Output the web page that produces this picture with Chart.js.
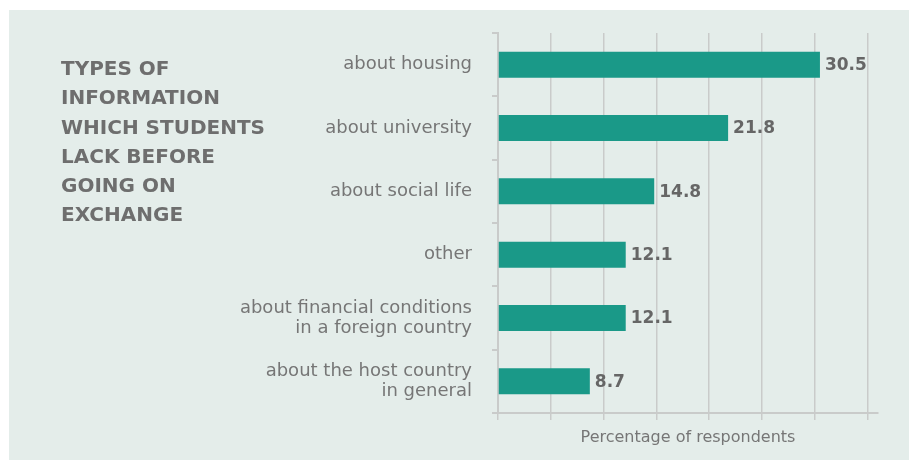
<!DOCTYPE html>
<html>
<head>
<meta charset="utf-8">
<script src="https://cdn.jsdelivr.net/npm/chart.js@4"></script>
<style>
    html, body { margin: 0; padding: 0; background: #ffffff; }
    #wrap { position: relative; width: 909px; height: 460px; }
    #title {
        position: absolute; left: 61px; top: 54px;
        font-family: "DejaVu Sans", sans-serif; font-weight: bold;
        font-size: 20px; line-height: 29.3px; color: #6e6e6e;
    }
</style>
</head>
<body>
<div id="wrap">
    <canvas id="chart" width="909" height="460"></canvas>
    <div id="title">TYPES OF<br>INFORMATION<br>WHICH STUDENTS<br>LACK BEFORE<br>GOING ON<br>EXCHANGE</div>
</div>
<script>
const categories = [
    'about housing',
    'about university',
    'about social life',
    'other',
    ['about financial conditions', 'in a foreign country'],
    ['about the host country', 'in general']
];
const values = [30.5, 21.8, 14.8, 12.1, 12.1, 8.7];
const xTicks = [0, 5, 10, 15, 20, 25, 30, 35];

const gridColor = '#c9cbca';
const textColor = '#767676';

// panel background behind the chart
const panelBg = {
    id: 'panelBg',
    beforeDraw(chart) {
        const ctx = chart.ctx;
        ctx.save();
        ctx.fillStyle = '#e4edea';
        ctx.fillRect(9, 10, 900, 450);
        ctx.restore();
    }
};

// value labels at the end of each bar
const valueLabels = {
    id: 'valueLabels',
    afterDatasetsDraw(chart) {
        const ctx = chart.ctx;
        const meta = chart.getDatasetMeta(0);
        ctx.save();
        ctx.fillStyle = '#666666';
        ctx.font = 'bold 17px "DejaVu Sans"';
        ctx.textBaseline = 'middle';
        meta.data.forEach((bar, i) => {
            ctx.fillText(values[i].toFixed(1), bar.x + 5, bar.y + 1);
        });
        ctx.restore();
    }
};

new Chart(document.getElementById('chart'), {
    type: 'bar',
    data: {
        labels: categories,
        datasets: [{
            data: values,
            backgroundColor: '#1a9988',
            categoryPercentage: 1,
            barPercentage: 0.41
        }]
    },
    options: {
        indexAxis: 'y',
        responsive: false,
        animation: false,
        layout: { padding: { top: 33, right: 31, left: 0, bottom: 0 } },
        plugins: {
            legend: { display: false },
            tooltip: { enabled: false }
        },
        scales: {
            x: {
                min: 0,
                max: 36,
                afterBuildTicks: (scale) => {
                    scale.ticks = xTicks.map(v => ({ value: v }));
                },
                afterFit: (scale) => {
                    scale.height = 47;
                    scale.paddingLeft = 0;
                    scale.paddingRight = 0;
                },
                grid: { color: gridColor, lineWidth: 1.5, tickLength: 7 },
                border: { color: gridColor, width: 2 },
                ticks: { display: false },
                title: {
                    display: true,
                    text: 'Percentage of respondents',
                    color: textColor,
                    font: { family: 'DejaVu Sans', size: 16 },
                    padding: { top: 0, bottom: 13 }
                }
            },
            y: {
                afterFit: (scale) => {
                    scale.width = 498;
                    scale.paddingTop = 0;
                    scale.paddingBottom = 0;
                },
                grid: { offset: true, drawOnChartArea: false, color: gridColor, lineWidth: 2, tickLength: 6 },
                border: { color: gridColor, width: 2 },
                ticks: {
                    color: textColor,
                    padding: 20,
                    font: { family: 'DejaVu Sans', size: 18, lineHeight: 1.1 }
                }
            }
        }
    },
    plugins: [panelBg, valueLabels]
});
</script>
</body>
</html>
